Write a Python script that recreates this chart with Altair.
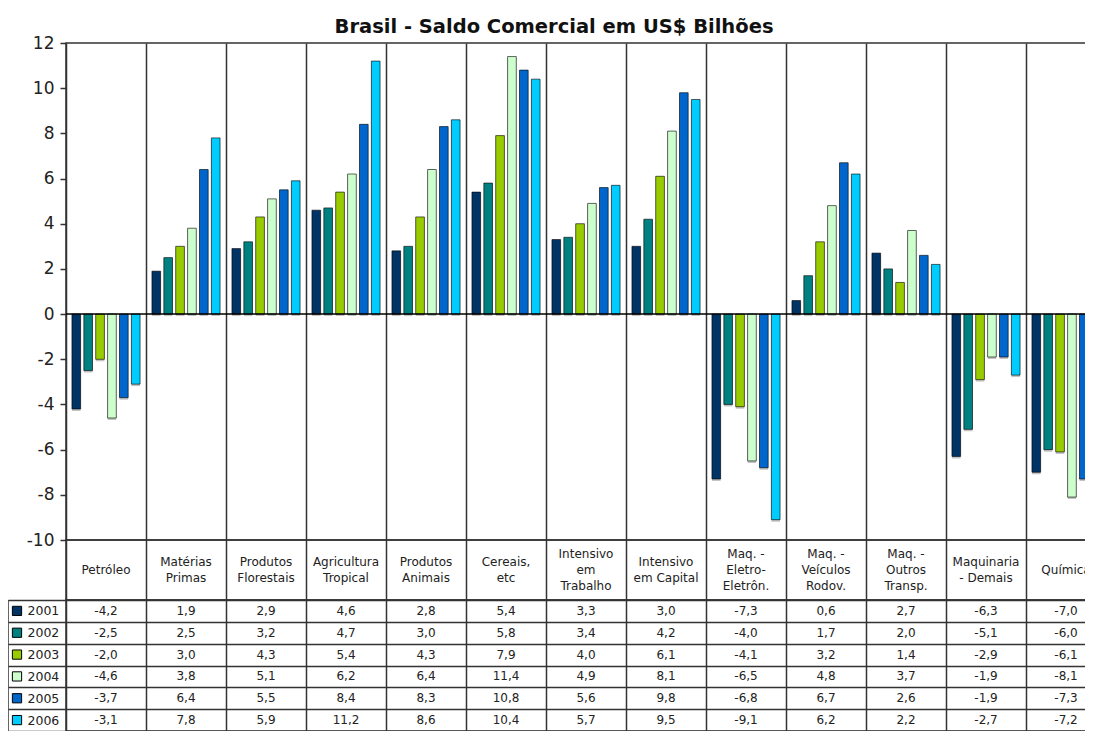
import altair as alt
import pandas as pd

categories = ["Petróleo", "Matérias\nPrimas", "Produtos\nFlorestais", "Agricultura\nTropical",
              "Produtos\nAnimais", "Cereais,\netc", "Intensivo\nem\nTrabalho", "Intensivo\nem Capital",
              "Maq. -\nEletro-\nEletrôn.", "Maq. -\nVeículos\nRodov.", "Maq. -\nOutros\nTransp.",
              "Maquinaria\n- Demais", "Química"]
years = ["2001", "2002", "2003", "2004", "2005", "2006"]
v2001 = [-4.2, 1.9, 2.9, 4.6, 2.8, 5.4, 3.3, 3.0, -7.3, 0.6, 2.7, -6.3, -7.0]
v2002 = [-2.5, 2.5, 3.2, 4.7, 3.0, 5.8, 3.4, 4.2, -4.0, 1.7, 2.0, -5.1, -6.0]
v2003 = [-2.0, 3.0, 4.3, 5.4, 4.3, 7.9, 4.0, 6.1, -4.1, 3.2, 1.4, -2.9, -6.1]
v2004 = [-4.6, 3.8, 5.1, 6.2, 6.4, 11.4, 4.9, 8.1, -6.5, 4.8, 3.7, -1.9, -8.1]
v2005 = [-3.7, 6.4, 5.5, 8.4, 8.3, 10.8, 5.6, 9.8, -6.8, 6.7, 2.6, -1.9, -7.3]
v2006 = [-3.1, 7.8, 5.9, 11.2, 8.6, 10.4, 5.7, 9.5, -9.1, 6.2, 2.2, -2.7, -7.2]
series = [v2001, v2002, v2003, v2004, v2005, v2006]
colors = ["#003366", "#008080", "#99CC00", "#CCFFCC", "#0066CC", "#00CCFF"]
y_ticks = [-10, -8, -6, -4, -2, 0, 2, 4, 6, 8, 10, 12]

rows = []
for yr, vals in zip(years, series):
    for c, v in zip(categories, vals):
        rows.append({"cat": c, "year": yr, "value": v,
                     "label": f"{v:.1f}".replace(".", ",")})
df = pd.DataFrame(rows)

FONT = "DejaVu Sans"
LINE = "#333333"
W = 1040

xscale = alt.Scale(domain=categories, paddingInner=0, paddingOuter=0)
grid_axis = alt.Axis(title=None, labels=False, ticks=False, domain=False, grid=True,
                     tickBand="extent", gridColor=LINE, gridWidth=1.5, gridOpacity=1)
color = alt.Color("year:N", scale=alt.Scale(domain=years, range=colors), legend=None)
x_enc = alt.X("cat:N", sort=categories, scale=xscale, axis=grid_axis)
xoff_enc = alt.XOffset("year:N", sort=years, scale=alt.Scale(paddingInner=0.27, paddingOuter=0.5))
y_enc = alt.Y("value:Q", scale=alt.Scale(domain=[-10, 12], nice=False, zero=False),
              axis=alt.Axis(title=None, values=y_ticks, grid=False, domain=False,
                            labelExpr="'' + datum.value",
                            labelFont=FONT, labelFontSize=17, labelColor="#222222",
                            tickSize=6, tickColor=LINE, tickWidth=1.5, labelPadding=6))

shadow = alt.Chart(df).mark_bar(color="#c4c4c4", xOffset=2, yOffset=2).encode(
    x=x_enc, xOffset=xoff_enc, y=y_enc)
bars = alt.Chart(df).mark_bar(stroke="black", strokeOpacity=0.6, strokeWidth=1).encode(
    x=x_enc, xOffset=xoff_enc, y=y_enc, color=color)
zero = alt.Chart(pd.DataFrame({"a": [0]})).mark_rule(color="black", strokeWidth=1.5).encode(
    y=alt.datum(0))
top = alt.layer(shadow, bars, zero).properties(
    width=W, height=497,
    title=alt.TitleParams("Brasil - Saldo Comercial em US$ Bilhões", font=FONT, fontSize=19.5,
                          fontWeight="bold", color="#111111", offset=7, anchor="middle",
                          frame="group", baseline="bottom", dx=-32, dy=29),
)

hbase = alt.Chart(pd.DataFrame({"cat": categories})).transform_calculate(
    nlines="length(split(datum.cat, '\\n'))"
).encode(
    x=x_enc,
    y=alt.value(30),
    text="cat:N",
)
hlayers = []
for n, dy in [(1, 0), (2, -8), (3, -16)]:
    hlayers.append(
        hbase.transform_filter(f"datum.nlines == {n}").mark_text(
            font=FONT, fontSize=12, lineBreak="\n", baseline="middle", lineHeight=16,
            color="#222222", dy=dy)
    )
header = alt.layer(*hlayers).properties(width=W, height=60)

yband = alt.Scale(domain=years, paddingInner=0, paddingOuter=0)
cells = alt.Chart(df).mark_text(font=FONT, fontSize=12, color="#222222").encode(
    x=x_enc,
    y=alt.Y("year:N", sort=years, scale=yband,
            axis=alt.Axis(title=None, grid=True, tickBand="extent", gridColor=LINE,
                          gridWidth=1.5, gridOpacity=1, tickSize=58, tickColor=LINE,
                          tickWidth=1.5, domain=False, labelAlign="left", labelPadding=-19,
                          labelFont=FONT, labelFontSize=12.5, labelColor="#222222")),
    text="label:N",
)
squares = alt.Chart(pd.DataFrame({"year": years})).mark_square(
    size=85, stroke="black", strokeWidth=1, opacity=1
).encode(
    x=alt.value(-49),
    y=alt.Y("year:N", sort=years, scale=yband),
    color=color,
)
border = alt.Chart(pd.DataFrame({"a": [0]})).mark_rule(color=LINE, strokeWidth=1.5).encode(
    x=alt.value(-58), y=alt.value(0), y2=alt.value(131))
table = alt.layer(cells, squares, border).properties(width=W, height=131)

chart = alt.vconcat(top, header, table, spacing=0, bounds="flush").properties(
    autosize=alt.AutoSizeParams(type="none"),
    padding={"left": 58, "top": 35, "right": -21, "bottom": 688},
).configure_view(stroke=LINE, strokeWidth=1.5)

chart.save("out.html", embed_options={"renderer": "svg", "actions": False})
